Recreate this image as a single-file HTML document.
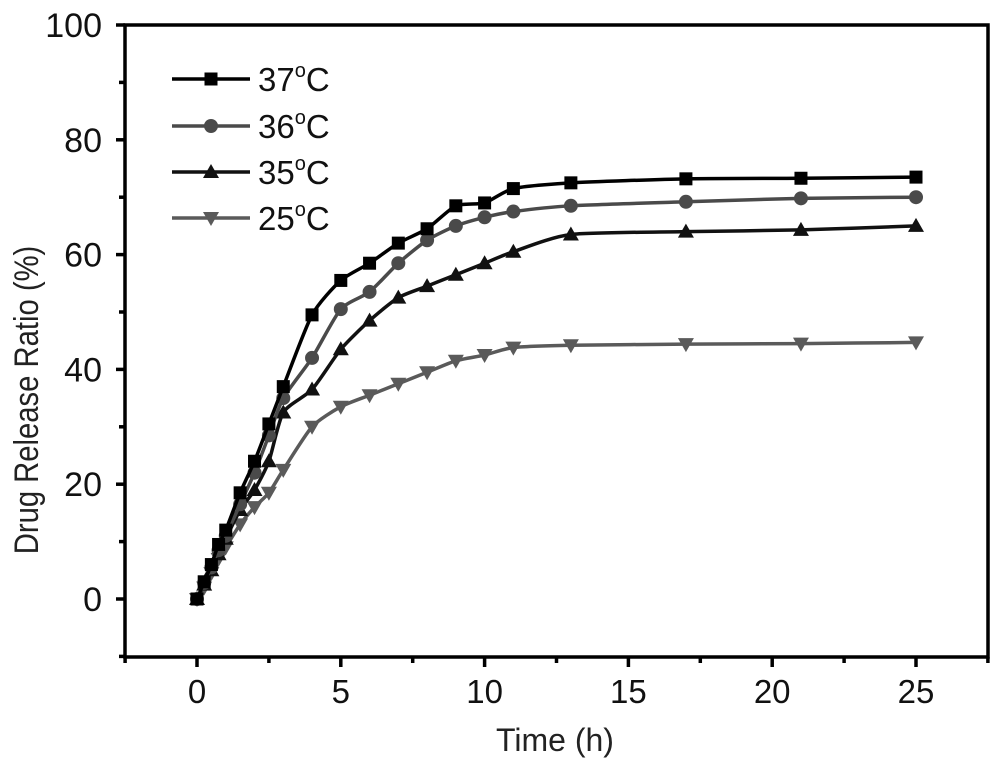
<!DOCTYPE html>
<html><head><meta charset="utf-8"><style>
body{margin:0;background:#fff}
svg{display:block}
text{font-family:"Liberation Sans",sans-serif}
</style></head><body>
<svg id="s" width="1000" height="767" viewBox="0 0 1000 767" xmlns="http://www.w3.org/2000/svg">
<rect x="125" y="25" width="863" height="632" fill="none" stroke="#000" stroke-width="3.5"/>
<g id="ax" stroke="#000" stroke-width="3.5"></g>
<g id="tl" fill="#111"></g>
<text x="0" y="0" style="font-size:34px" fill="#222" transform="translate(38,400) rotate(-90) scale(0.86,1)" text-anchor="middle">Drug Release Ratio (%)</text>
<text x="555" y="751" style="font-size:32px" fill="#222" text-anchor="middle">Time (h)</text>
<g id="data"></g>
<g id="leg"></g>
</svg>
<script>
const NS="http://www.w3.org/2000/svg";
function el(p,t,a,txt){const e=document.createElementNS(NS,t);for(const k in a)e.setAttribute(k,a[k]);if(txt!=null)e.textContent=txt;p.appendChild(e);return e;}
const X=v=>197+v*28.76, Y=v=>599-v*5.74;
const ax=document.getElementById('ax'), tl=document.getElementById('tl');
for(let v=-10;v<=100;v+=10){const maj=v%20==0;el(ax,'line',{x1:125,x2:125-(maj?9:6),y1:Y(v),y2:Y(v)});
 if(maj)el(tl,'text',{x:102,y:Y(v)+12,'text-anchor':'end',style:'font-size:34px'},v);}
for(let v=-2.5;v<=27.5;v+=2.5){const maj=Math.abs(v%5)<0.01;el(ax,'line',{x1:X(v),x2:X(v),y1:657,y2:657+(maj?10:6)});
 if(maj)el(tl,'text',{x:X(v),y:703,'text-anchor':'middle',style:'font-size:33px'},v);}
const xs=[0,0.25,0.5,0.75,1,1.5,2,2.5,3,4,5,6,7,8,9,10,11,13,17,21,25];
const series=[
 {c:'#000',m:'sq',y:[0,3,6,9.5,12,18.5,24,30.5,37,49.5,55.5,58.5,62,64.5,68.5,69,71.5,72.5,73.2,73.3,73.5]},
 {c:'#4a4a4a',m:'ci',y:[0,2.8,5.5,8.5,11,16.5,22,28.5,35,42,50.5,53.5,58.5,62.5,65,66.5,67.5,68.5,69.2,69.8,70]},
 {c:'#111',m:'tu',y:[0,2.5,5,7.8,10.5,15.5,19,24,32.5,36.5,43.5,48.5,52.5,54.5,56.5,58.5,60.5,63.5,64,64.3,65]},
 {c:'#5a5a5a',m:'td',y:[0,2,4.5,7,9,13,16,18.5,22.5,30,33.5,35.5,37.5,39.5,41.5,42.5,43.8,44.2,44.4,44.5,44.7]}];
function marker(g,t,x,y,c){
 if(t=='sq')el(g,'rect',{x:x-6.5,y:y-6.5,width:13,height:13,fill:c});
 else if(t=='ci')el(g,'circle',{cx:x,cy:y,r:7,fill:c});
 else if(t=='tu')el(g,'polygon',{points:`${x},${y-8} ${x-8},${y+6} ${x+8},${y+6}`,fill:c});
 else el(g,'polygon',{points:`${x},${y+8} ${x-8},${y-6} ${x+8},${y-6}`,fill:c});}
const d=document.getElementById('data');
series.slice().reverse().forEach(s=>{
 const pts=xs.map((x,i)=>[X(x),Y(s.y[i])]);
 let p='M'+pts[0];for(let i=0;i<pts.length-1;i++){const p0=pts[i-1]||pts[i],p1=pts[i],p2=pts[i+1],p3=pts[i+2]||p2;
  const k=9;const c1=[p1[0]+(p2[0]-p0[0])/k,p1[1]+(p2[1]-p0[1])/k],c2=[p2[0]-(p3[0]-p1[0])/k,p2[1]-(p3[1]-p1[1])/k];
  p+=` C${c1} ${c2} ${p2}`;}
 el(d,'path',{d:p,fill:'none',stroke:s.c,'stroke-width':3.5});
 pts.forEach(q=>marker(d,s.m,q[0],q[1],s.c));});
const lg=document.getElementById('leg');const labs=['37','36','35','25'];const ly=[79,126,172,218];
series.forEach((s,i)=>{el(lg,'line',{x1:172,x2:250,y1:ly[i],y2:ly[i],stroke:s.c,'stroke-width':3.5});marker(lg,s.m,211,ly[i],s.c);
 const t=el(lg,'text',{x:258,y:ly[i]+12,style:'font-size:33px',fill:'#111'});t.innerHTML=labs[i]+'<tspan style="font-size:20px" dy="-14">o</tspan><tspan dy="14">C</tspan>';});
</script>
</body></html>
